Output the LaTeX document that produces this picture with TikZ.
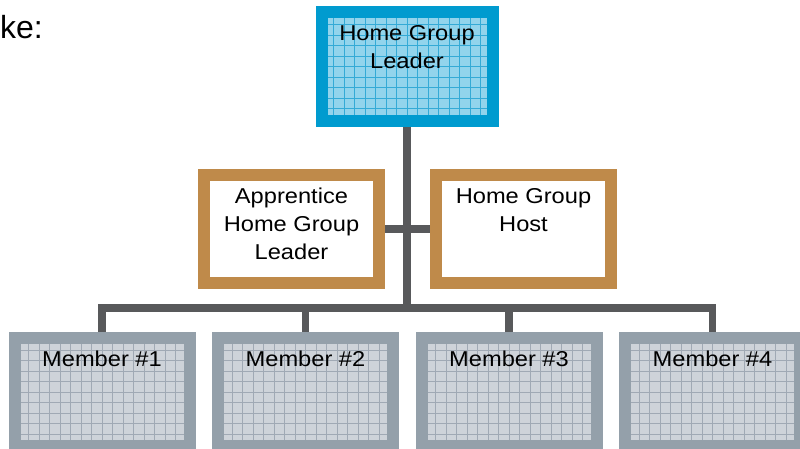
\documentclass[tikz,border=0pt]{standalone}
\usepackage{fontspec}
\setmainfont{Liberation Sans}[FakeStretch=1.1]
\newfontfamily\kefont{Liberation Sans}
\usepackage{tikz}

\definecolor{azul}{RGB}{0,155,207}
\definecolor{celeste}{RGB}{146,212,236}
\definecolor{azullinea}{RGB}{52,170,214}
\definecolor{ocre}{RGB}{191,138,74}
\definecolor{gris}{RGB}{148,160,170}
\definecolor{grisclaro}{RGB}{206,211,217}
\definecolor{grislinea}{RGB}{160,169,180}
\definecolor{pizarra}{RGB}{88,89,91}

\begin{document}
\begin{tikzpicture}[x=1pt,y=-1pt,
    caja/.style={rectangle, line width=12pt, inner sep=0pt,
        minimum width=175pt, minimum height=108pt},
    cuadricula/.style={path picture={\draw[#1, line width=0.8pt, step=10.5pt]
        (path picture bounding box.south west) grid (path picture bounding box.north east);}},
    lider/.style={caja, draw=azul, fill=celeste, cuadricula=azullinea,
        minimum width=171pt, minimum height=109pt},
    apoyo/.style={caja, draw=ocre, fill=white},
    miembro/.style={caja, draw=gris, fill=grisclaro, cuadricula=grislinea},
    conector/.style={draw=pizarra, line width=7.5pt},
    texto/.style={anchor=north, inner sep=0pt, align=center,
        font=\fontsize{21.5}{28}\selectfont}]
    \clip (0,0) rectangle (800,449);
    \useasboundingbox (0,0) rectangle (800,449);

    % Texto de la diapositiva
    \node[anchor=base west, inner sep=0pt, font=\kefont\fontsize{32}{38}\selectfont] (ke) at (0,39) {ke:};

    % Cajas
    \node[lider] (lider) at (407,66.5) {};
    \node[apoyo] (aprendiz) at (291.5,229) {};
    \node[apoyo] (anfitrion) at (523.5,229) {};
    \node[miembro] (m1) at (102,392) {};
    \node[miembro] (m2) at (305.5,392) {};
    \node[miembro] (m3) at (509,392) {};
    \node[miembro] (m4) at (712.5,392) {};

    % Conectores
    \coordinate (bus) at (407,308);
    \draw[conector] (lider.south) -- (bus);
    \draw[conector] (aprendiz.east) -- (anfitrion.west);
    \draw[conector] (m1.north) |- (bus) -| (m4.north);
    \draw[conector] (m2.north) -- (m2.north |- bus);
    \draw[conector] (m3.north) -- (m3.north |- bus);

    % Etiquetas
    \node[texto] (liderT) at ([yshift=-19pt]lider.north) {Home Group\\Leader};
    \node[texto] (aprendizT) at ([yshift=-19pt]aprendiz.north) {Apprentice\\Home Group\\Leader};
    \node[texto] (anfitrionT) at ([yshift=-19pt]anfitrion.north) {Home Group\\Host};
    \node[texto] (m1T) at ([yshift=-19pt]m1.north) {Member \#1};
    \node[texto] (m2T) at ([yshift=-19pt]m2.north) {Member \#2};
    \node[texto] (m3T) at ([yshift=-19pt]m3.north) {Member \#3};
    \node[texto] (m4T) at ([yshift=-19pt]m4.north) {Member \#4};
\end{tikzpicture}
\end{document}
